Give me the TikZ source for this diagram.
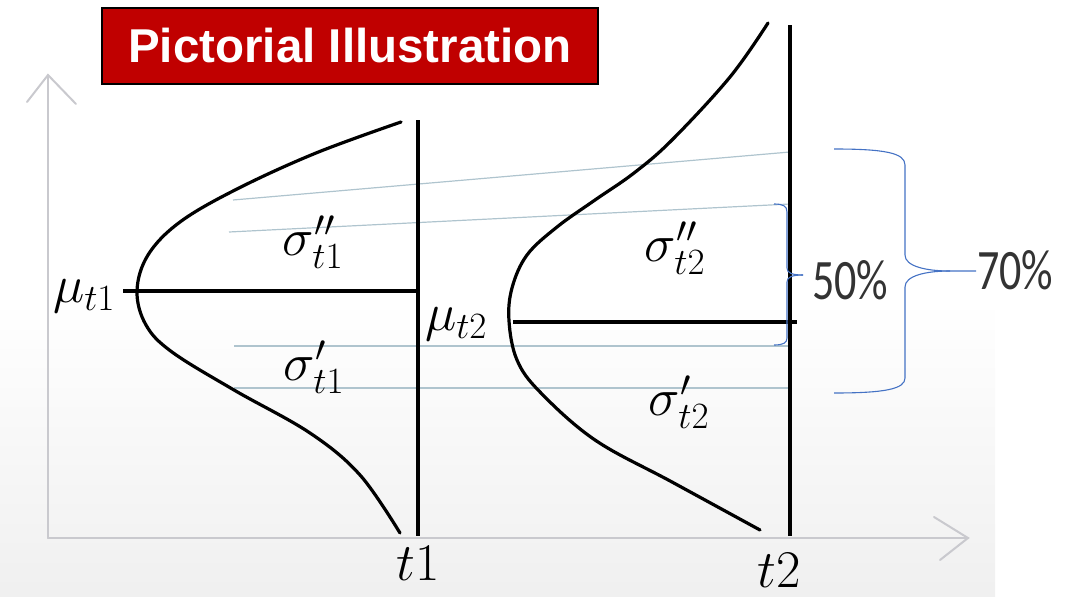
\RequirePackage{fix-cm}
\documentclass[tikz,border=0pt]{standalone}
\usepackage{fontspec}
\usepackage{tikz}
\usetikzlibrary{positioning,calc}
\newfontfamily\titlefont{Liberation Sans}
\newfontfamily\pctfont{Carlito}
\definecolor{titlered}{HTML}{C00000}
\definecolor{bracebl}{HTML}{4472C4}
\definecolor{axisgr}{HTML}{C9C9CE}
\definecolor{bandln}{HTML}{AFC4CE}

\begin{document}
\begin{tikzpicture}[x=1pt, y=-1pt,
  distcurve/.style={line width=3.2pt, draw=black, line cap=round},
  timeline/.style={line width=3.5pt, draw=black},
  meanline/.style={line width=3.1pt, draw=black},
  bandline/.style={line width=1.2pt, draw=bandln},
  axisline/.style={line width=2pt, draw=axisgr, line cap=round},
  bracket/.style={line width=1.1pt, draw=bracebl},
  mathlbl/.style={font=\fontsize{53}{58}\selectfont, inner sep=0pt},
  pctlbl/.style={font=\pctfont\fontsize{44}{48}\selectfont, text=black!80, inner sep=0pt},
]
\useasboundingbox (0,0) rectangle (1079,597);
% slide background, greyish towards the bottom
\shade[top color=white, bottom color=black!6] (0,300) rectangle (995,597);

% Axes (light grey, open arrow heads)
\coordinate (origin) at (48,538);
\coordinate (ytip) at (48,75);
\coordinate (xtip) at (968,538);
\draw[axisline] (origin) -- (ytip);
\draw[axisline] (origin) -- (xtip);
\draw[axisline] (27,102) -- (ytip) -- (76,104);
\draw[axisline] (934,517) -- (xtip) -- (940,560);

% Title box
\node[draw=black, line width=1.5pt, fill=titlered, text=white,
      font=\titlefont\bfseries\fontsize{47.5}{50}\selectfont,
      minimum width=496pt, minimum height=76pt, inner sep=0pt] (title) at (350,46) {Pictorial Illustration};

% sigma band lines, from the left curve over to t2
\foreach \n/\xa/\ya/\yb in {a/233/200/152, b/229/232/204, c/234/346/346, d/234/388/388} {
  \coordinate (band\n) at (\xa,\ya);
  \coordinate (bandend\n) at (790,\yb);
  \draw[bandline] (band\n) -- (bandend\n);
}

% time lines t1, t2
\coordinate (t1top) at (418,120);
\coordinate (t1bot) at (418,536);
\coordinate (t2top) at (790,25);
\coordinate (t2bot) at (790,536);
\draw[timeline] (t1top) -- (t1bot);
\draw[timeline] (t2top) -- (t2bot);
\node[mathlbl] (lblta) at (418,563) {$t1$};
\node[mathlbl] (lbltb) at (779,570) {$t2$};

% Distribution at t1
\draw[distcurve] plot[smooth, tension=0.6] coordinates {(401,122) (316,153) (237,189) (180,222) (148,255) (137,291) (146,325) (172,352) (234,390) (310,433) (360,475) (400,533)};
% Distribution at t2
\draw[distcurve] plot[smooth, tension=0.6] coordinates {(768,23) (730,77) (672,140) (634,173) (595,200) (557,227) (527,255) (512,288) (509,321) (517,360) (540,392) (595,440) (672,482) (760,530)};

% mean lines
\coordinate (mua) at (123,291);
\coordinate (mub) at (513,322);
\draw[meanline] (mua) -- (mua -| t1top);
\draw[meanline] (mub) -- ($(mub -| t2top)+(7,0)$);
\node[mathlbl] (lblmua) at (84,296) {$\mu_{t1}$};
\node[mathlbl] (lblmub) at (456,324) {$\mu_{t2}$};

% sigma labels
\node[mathlbl] (sgaup) at (313,242) {$\sigma''_{t1}$};
\node[mathlbl] (sgalo) at (314,367) {$\sigma'_{t1}$};
\node[mathlbl] (sgbup) at (675,248) {$\sigma''_{t2}$};
\node[mathlbl] (sgblo) at (679,402) {$\sigma'_{t2}$};

% braces, 50% and 70%
\draw[bracket] (bandendb) ++(-16,0) .. controls +(9,0) and +(0,-6) .. (787,212) -- (787,268) .. controls (787,273) and (792,275) .. (803,275) coordinate (tipfifty);
\draw[bracket] (tipfifty) .. controls (792,275) and (787,277) .. (787,282) -- (787,338) .. controls (787,343) and (783,345) .. (774,345);
\node[pctlbl, anchor=west] (pfifty) at (812,280) {\scalebox{1}[1.3]{50\%}};

\draw[bracket] (834,149) .. controls (885,149) and (905,153) .. (905,165) -- (905,255) .. controls (905,266) and (925,271) .. (950,271) -- (976,271) coordinate (tipseventy);
\draw[bracket] (950,271) .. controls (925,271) and (905,276) .. (905,287) -- (905,378) .. controls (905,389) and (885,393) .. (834,393);
\node[pctlbl, anchor=west] (pseventy) at (977,270) {\scalebox{1}[1.3]{70\%}};
\end{tikzpicture}
\end{document}
